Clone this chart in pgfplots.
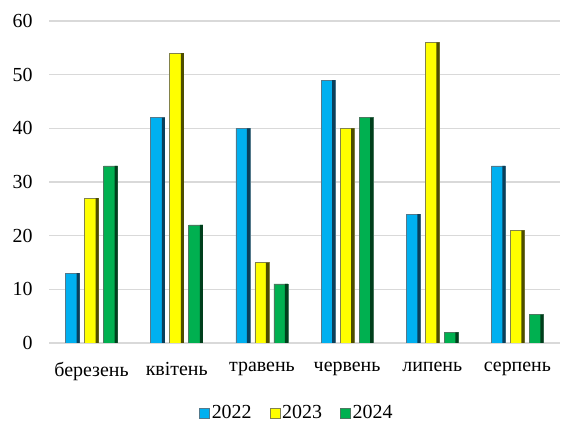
\documentclass[border=0pt]{standalone}
\usepackage{pgfplots}
\pgfplotsset{compat=1.18}
\usepackage{fontspec}
\setmainfont{Liberation Serif}
\definecolor{cA}{HTML}{00B0F0}
\definecolor{cAd}{HTML}{0B3F5A}
\definecolor{cB}{HTML}{FFFF00}
\definecolor{cBd}{HTML}{4D4D00}
\definecolor{cC}{HTML}{00B050}
\definecolor{cCd}{HTML}{003F1C}
\definecolor{gridc}{HTML}{D9D9D9}
\begin{document}
\begin{tikzpicture}
\path[use as bounding box] (0,0) rectangle (566bp,425bp);
\begin{axis}[
  at={(49bp,82bp)}, anchor=south west,
  scale only axis, width=511bp, height=322bp,
  xmin=-0.5, xmax=5.5, ymin=0, ymax=60,
  ytick={0,10,...,60},
  xtick={0,...,5},
  xticklabels={березень,квітень,травень,червень,липень,серпень},
  ymajorgrids, grid style={draw=gridc, line width=1.2bp},
  axis x line*=bottom, axis y line*=left,
  x axis line style={draw=gridc, line width=1.2bp, -},
  y axis line style={draw=none},
  major tick length=0pt,
  tick label style={font=\rmfamily\fontsize{20}{22}\selectfont},
  /pgf/number format/assume math mode=true,
  yticklabel style={xshift=-13bp},
  xticklabel style={yshift=-16bp},
  legend style={at={(0.485,-0.217)}, anchor=center, draw=none, fill=none,
    legend columns=3, font=\rmfamily\fontsize{20}{22}\selectfont,
    /tikz/every even column/.append style={column sep=16bp}},
  legend image code/.code={\draw[#1] (0bp,-5bp) rectangle (10bp,5bp);},
]
\addplot[ybar, bar width=14bp, bar shift=-19bp, fill=cA, draw=cAd!70, line width=0.6bp]
  coordinates {(0,13) (1,42) (2,40) (3,49) (4,24) (5,33)};
\addlegendentry{2022}
\addplot[ybar, bar width=14bp, bar shift=0bp, fill=cB, draw=cBd!70, line width=0.6bp]
  coordinates {(0,27) (1,54) (2,15) (3,40) (4,56) (5,21)};
\addlegendentry{2023}
\addplot[ybar, bar width=14bp, bar shift=19bp, fill=cC, draw=cCd!70, line width=0.6bp]
  coordinates {(0,33) (1,22) (2,11) (3,42) (4,2) (5,5.3)};
\addlegendentry{2024}
\addplot[ybar, forget plot, bar width=3bp, bar shift=-13.5bp, fill=cAd, draw=none]
  coordinates {(0,13) (1,42) (2,40) (3,49) (4,24) (5,33)};
\addplot[ybar, forget plot, bar width=3bp, bar shift=5.5bp, fill=cBd, draw=none]
  coordinates {(0,27) (1,54) (2,15) (3,40) (4,56) (5,21)};
\addplot[ybar, forget plot, bar width=3bp, bar shift=24.5bp, fill=cCd, draw=none]
  coordinates {(0,33) (1,22) (2,11) (3,42) (4,2) (5,5.3)};
\end{axis}
\end{tikzpicture}
\end{document}
